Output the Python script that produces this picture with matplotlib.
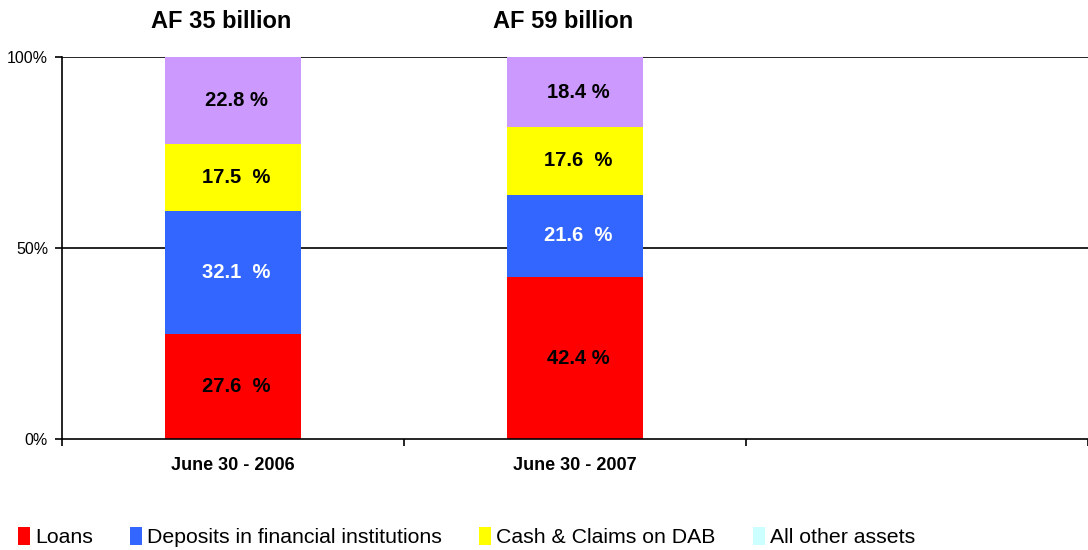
import matplotlib
matplotlib.use("Agg")
import matplotlib.pyplot as plt
from matplotlib.patches import Patch
import numpy as np

plt.rcParams['font.family'] = ['Liberation Sans', 'DejaVu Sans']

categories = ["June 30 - 2006", "June 30 - 2007", ""]
totals = ["AF 35 billion", "AF 59 billion"]
series_names = ["Loans", "Deposits in financial institutions", "Cash & Claims on DAB", "All other assets"]
loans = [27.6, 42.4]
deposits = [32.1, 21.6]
cash = [17.5, 17.6]
other = [22.8, 18.4]
label_fmt = [["{:.1f}  %", "{:.1f} %"], ["{:.1f}  %", "{:.1f}  %"],
             ["{:.1f}  %", "{:.1f}  %"], ["{:.1f} %", "{:.1f} %"]]

bar_colors = ["#FF0000", "#3366FF", "#FFFF00", "#CC99FF"]
legend_colors = ["#FF0000", "#3366FF", "#FFFF00", "#CCFFFF"]
text_colors = ["black", "white", "black", "black"]

fig = plt.figure(figsize=(10.88, 5.5), dpi=100)
ax = fig.add_axes([62/1088, 1-439/550, 1-62/1088, (439-57)/550])

x = np.arange(len(loans))
bottom = np.zeros(len(loans))
for vals, col, tc, fmts in zip([loans, deposits, cash, other], bar_colors, text_colors, label_fmt):
    vals = np.array(vals)
    ax.bar(x, vals, 0.4, bottom=bottom, color=col, edgecolor='none', zorder=2)
    for xi, v, b, fmt in zip(x, vals, bottom, fmts):
        ax.text(xi + 0.01, b + v/2, fmt.format(v), ha='center', va='center',
                fontsize=14.5, fontweight='bold', color=tc, zorder=3)
    bottom += vals

ax.set_xlim(-0.5, 2.5)
ax.set_ylim(0, 100)
ax.set_yticks([0, 50, 100])
ax.set_yticklabels(["0%", "50%", "100%"], fontsize=11.5)
for yv in [50, 100]:
    ax.axhline(yv, color='black', linewidth=1.2, zorder=1)

ax.set_xticks([-0.5, 0.5, 1.5, 2.5])
ax.set_xticklabels([])
ax.tick_params(axis='x', length=5, width=1.2, direction='out')
ax.tick_params(axis='y', length=5, width=1.2, direction='out', pad=5)
for i, c in enumerate(categories):
    if c:
        ax.text(i, -4.8, c, ha='center', va='top', fontsize=13, fontweight='bold',
                transform=ax.transData)

for s in ['top', 'right']:
    ax.spines[s].set_visible(False)
for s in ['left', 'bottom']:
    ax.spines[s].set_linewidth(1.2)

for i, t in enumerate(totals):
    ax.text(i - 0.035, 1.092, t, ha='center', va='center', fontsize=17, fontweight='bold',
            transform=ax.get_xaxis_transform())

handles = [Patch(facecolor=c, edgecolor='none') for c in legend_colors]
fig.legend(handles, series_names, loc='center left', bbox_to_anchor=(0.009, 1-537/550),
           ncol=4, frameon=False, fontsize=15.3, handlelength=0.55, handleheight=0.9,
           handletextpad=0.25, columnspacing=1.75, borderaxespad=0)

fig.savefig("out.png", dpi=100)
